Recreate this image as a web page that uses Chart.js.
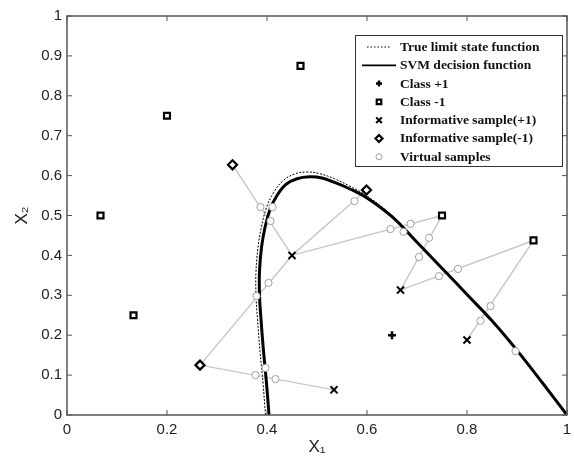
<!DOCTYPE html>
<html><head><meta charset="utf-8">
<script src="https://cdn.jsdelivr.net/npm/chart.js@4.4.1/dist/chart.umd.min.js"></script>
<style>html,body{margin:0;padding:0;background:#fff}#wrap{width:574px;height:458px;position:relative}</style>
</head><body><div id="wrap"><canvas id="c"></canvas></div>
<script>
// ---- data ----
const xTickLabels = ['0','0.2','0.4','0.6','0.8','1'];
const yTickLabels = ['0','0.1','0.2','0.3','0.4','0.5','0.6','0.7','0.8','0.9','1'];

const trueX = [0.397,0.392,0.386,0.381,0.378,0.378,0.382,0.389,0.399,0.413,0.432,0.455,0.48,0.505,0.535,0.565,0.6,0.65,0.7,0.75,0.8,0.85,0.9,0.95,1.0];
const trueY = [0,0.08,0.16,0.24,0.3,0.36,0.42,0.472,0.52,0.557,0.587,0.604,0.609,0.605,0.592,0.574,0.549,0.5,0.435,0.369,0.303,0.236,0.162,0.082,0];

const svmX = [0.404,0.399,0.393,0.388,0.385,0.385,0.389,0.396,0.406,0.42,0.438,0.46,0.485,0.51,0.535,0.565,0.6,0.65,0.7,0.75,0.8,0.85,0.9,0.95,1.0];
const svmY = [0,0.08,0.16,0.24,0.3,0.36,0.42,0.47,0.515,0.55,0.578,0.592,0.597,0.594,0.583,0.567,0.544,0.497,0.433,0.368,0.302,0.236,0.162,0.082,0];

const classPosX = [0.65];
const classPosY = [0.2];
const classNegX = [0.067,0.133,0.2,0.467,0.75,0.933];
const classNegY = [0.5,0.25,0.75,0.875,0.5,0.4375];
const infoPosX = [0.45,0.667,0.8,0.534];
const infoPosY = [0.40,0.313,0.188,0.063];
const infoNegX = [0.331,0.599,0.266];
const infoNegY = [0.627,0.564,0.125];
const virtX = [0.387,0.407,0.411,0.575,0.647,0.687,0.673,0.724,0.704,0.744,0.782,0.847,0.827,0.897,0.379,0.403,0.397,0.377,0.417];
const virtY = [0.521,0.486,0.521,0.536,0.466,0.479,0.459,0.444,0.396,0.348,0.366,0.273,0.236,0.160,0.298,0.331,0.118,0.100,0.090];

// connecting segments (informative sample <-> neighbour)
const linkX1 = [0.331,0.45,0.45,0.266,0.266,0.75,0.667,0.933];
const linkY1 = [0.627,0.40,0.40,0.125,0.125,0.5,0.313,0.4375];
const linkX2 = [0.45,0.599,0.75,0.45,0.534,0.667,0.933,0.8];
const linkY2 = [0.40,0.564,0.5,0.40,0.063,0.313,0.4375,0.188];

const labels = ['True limit state function','SVM decision function','Class +1','Class -1','Informative sample(+1)','Informative sample(-1)','Virtual samples'];

const pts = (xs, ys) => xs.map((v, i) => ({x: v, y: ys[i]}));
const linkData = [];
linkX1.forEach((v, i) => {
  linkData.push({x: v, y: linkY1[i]}, {x: linkX2[i], y: linkY2[i]}, {x: null, y: null});
});

const datasets = [
  {label: labels[0], data: pts(trueX, trueY), showLine: true, borderColor: '#000', borderWidth: 1, borderDash: [2, 1.5], pointRadius: 0, tension: 0.4, fill: false, order: 6, _leg: 'dot'},
  {label: labels[1], data: pts(svmX, svmY), showLine: true, borderColor: '#000', borderWidth: 3, pointRadius: 0, tension: 0.4, fill: false, order: 5, _leg: 'line'},
  {label: labels[2], data: pts(classPosX, classPosY), pointStyle: 'cross', pointRadius: 4, borderColor: '#000', borderWidth: 2.5, order: 1, _leg: 'cross'},
  {label: labels[3], data: pts(classNegX, classNegY), pointStyle: 'rect', pointRadius: 4.2, borderColor: '#000', backgroundColor: '#fff', borderWidth: 2.2, order: 1, _leg: 'rect'},
  {label: labels[4], data: pts(infoPosX, infoPosY), pointStyle: 'crossRot', pointRadius: 5, borderColor: '#000', borderWidth: 2, order: 1, _leg: 'crossRot'},
  {label: labels[5], data: pts(infoNegX, infoNegY), pointStyle: 'rectRot', pointRadius: 4.5, borderColor: '#000', backgroundColor: '#fff', borderWidth: 2.2, order: 1, _leg: 'rectRot'},
  {label: labels[6], data: pts(virtX, virtY), pointStyle: 'circle', pointRadius: 3.6, borderColor: '#a0a0a0', backgroundColor: '#fff', borderWidth: 1, order: 2, _leg: 'circle'},
  {label: '', data: linkData, showLine: true, spanGaps: false, borderColor: '#c8c8c8', borderWidth: 1.5, pointRadius: 0, order: 7}
];

function drawMarker(ctx, kind, x, y, ds) {
  ctx.save();
  ctx.strokeStyle = ds.borderColor; ctx.fillStyle = ds.backgroundColor || '#fff';
  ctx.lineWidth = ds.borderWidth;
  const r = ds.pointRadius;
  ctx.beginPath();
  if (kind === 'cross') { ctx.moveTo(x - r, y); ctx.lineTo(x + r, y); ctx.moveTo(x, y - r); ctx.lineTo(x, y + r); ctx.stroke(); }
  else if (kind === 'crossRot') { const d = r * Math.SQRT1_2; ctx.moveTo(x - d, y - d); ctx.lineTo(x + d, y + d); ctx.moveTo(x + d, y - d); ctx.lineTo(x - d, y + d); ctx.stroke(); }
  else if (kind === 'rect') { const s = r * Math.SQRT1_2; ctx.rect(x - s, y - s, 2 * s, 2 * s); ctx.fill(); ctx.stroke(); }
  else if (kind === 'rectRot') { ctx.moveTo(x - r, y); ctx.lineTo(x, y - r); ctx.lineTo(x + r, y); ctx.lineTo(x, y + r); ctx.closePath(); ctx.fill(); ctx.stroke(); }
  else if (kind === 'circle') { ctx.arc(x, y, r, 0, Math.PI * 2); ctx.fill(); ctx.stroke(); }
  ctx.restore();
}

const framePlugin = {
  id: 'frameAndLegend',
  afterDraw(chart) {
    const {ctx, chartArea: a, scales: {x, y}} = chart;
    ctx.save();
    ctx.strokeStyle = '#555';
    ctx.lineWidth = 1.5;
    ctx.strokeRect(a.left, a.top, a.right - a.left, a.bottom - a.top);
    ctx.lineWidth = 1;
    const tl = 5;
    ctx.beginPath();
    x.ticks.forEach(t => { const p = x.getPixelForValue(t.value); ctx.moveTo(p, a.bottom); ctx.lineTo(p, a.bottom - tl); ctx.moveTo(p, a.top); ctx.lineTo(p, a.top + tl); });
    y.ticks.forEach(t => { const p = y.getPixelForValue(t.value); ctx.moveTo(a.left, p); ctx.lineTo(a.left + tl, p); ctx.moveTo(a.right, p); ctx.lineTo(a.right - tl, p); });
    ctx.stroke();

    // legend box
    const bx = 355.5, by = 35.5, bw = 207, bh = 131;
    ctx.fillStyle = '#fff';
    ctx.fillRect(bx, by, bw, bh);
    ctx.strokeStyle = '#333';
    ctx.lineWidth = 1;
    ctx.strokeRect(bx, by, bw, bh);
    const row0 = 47, step = 18.3, cx = 379, tx = 400;
    ctx.font = 'bold 13.5px "Liberation Serif", "Times New Roman", serif';
    ctx.textBaseline = 'middle';
    ctx.textAlign = 'left';
    chart.data.datasets.filter(d => d.label).forEach((ds, i) => {
      const yy = row0 + i * step;
      if (ds._leg === 'dot') {
        ctx.save(); ctx.strokeStyle = '#000'; ctx.lineWidth = 1.2; ctx.setLineDash([1.5, 2]);
        ctx.beginPath(); ctx.moveTo(367, yy); ctx.lineTo(390, yy); ctx.stroke(); ctx.restore();
      } else if (ds._leg === 'line') {
        ctx.save(); ctx.strokeStyle = '#000'; ctx.lineWidth = 1.8;
        ctx.beginPath(); ctx.moveTo(362, yy); ctx.lineTo(396, yy); ctx.stroke(); ctx.restore();
      } else {
        const small = Object.assign({}, ds, {pointRadius: ds._leg === 'circle' ? 3 : Math.max(3, ds.pointRadius - 1)});
        drawMarker(ctx, ds._leg, cx, yy, small);
      }
      ctx.fillStyle = '#111';
      ctx.fillText(ds.label, tx, yy + 0.5);
    });
    ctx.restore();
  }
};

const tickFont = {family: '"Liberation Sans", Arial, sans-serif', size: 15};
new Chart(document.getElementById('c'), {
  type: 'scatter',
  data: {datasets},
  options: {
    responsive: true,
    maintainAspectRatio: false,
    animation: false,
    layout: {padding: {left: 0, right: 3, top: 16, bottom: 0}},
    plugins: {legend: {display: false}, tooltip: {enabled: false}},
    elements: {line: {capBezierPoints: true}},
    scales: {
      x: {
        type: 'linear', min: 0, max: 1,
        grid: {display: false, drawTicks: false},
        border: {display: false},
        ticks: {stepSize: 0.2, padding: 6, color: '#222', font: tickFont, maxRotation: 0,
          callback: (v, i) => xTickLabels[i]},
        title: {display: true, text: 'X\u2081', color: '#222', font: {family: '"Liberation Sans", Arial, sans-serif', size: 17}, padding: {top: 0, bottom: 0}},
        afterFit: s => { s.height = 43; s.paddingLeft = 0; s.paddingRight = 0; }
      },
      y: {
        type: 'linear', min: 0, max: 1,
        grid: {display: false, drawTicks: false},
        border: {display: false},
        ticks: {stepSize: 0.1, padding: 5, color: '#222', font: tickFont,
          callback: (v, i) => yTickLabels[i]},
        title: {display: true, text: 'X\u2082', color: '#222', font: {family: '"Liberation Sans", Arial, sans-serif', size: 17}, padding: {top: 12, bottom: 0}},
        afterFit: s => { s.width = 67; }
      }
    }
  },
  plugins: [framePlugin]
});
</script>
</body></html>
